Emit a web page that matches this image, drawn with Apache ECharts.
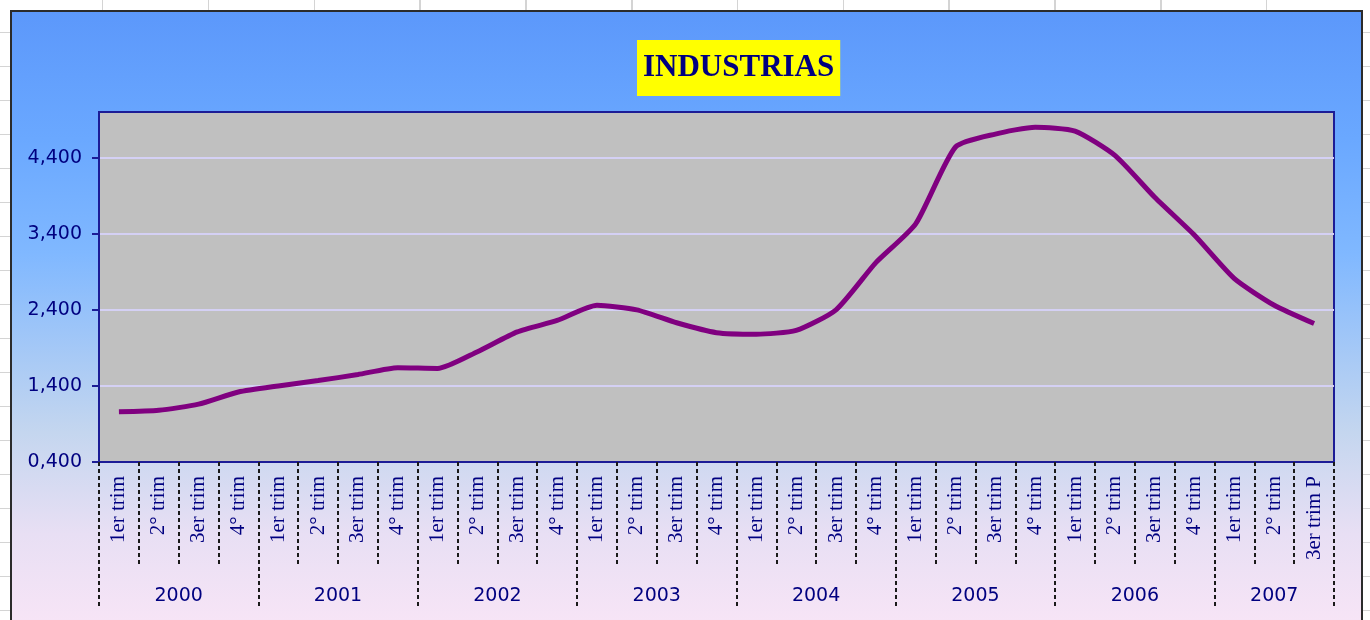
<!DOCTYPE html>
<html>
<head>
<meta charset="utf-8">
<script src="https://cdn.jsdelivr.net/npm/echarts@6/dist/echarts.min.js"></script>
<style>
  html, body { margin: 0; padding: 0; width: 1370px; height: 620px; overflow: hidden; }
  body {
    background-color: #fff;
    background-image:
      repeating-linear-gradient(to right, transparent 0, transparent 102px, #d4d4d4 102px, #d4d4d4 103.5px, transparent 103.5px, transparent 105.8px),
      repeating-linear-gradient(to bottom, transparent 0, transparent 32px, #d4d4d4 32px, #d4d4d4 33.5px, transparent 33.5px, transparent 34px);
  }
  #chart-frame {
    position: absolute; left: 10px; top: 10px; width: 1353px; height: 640px;
    box-sizing: border-box; border: 2px solid #2b2b2b;
    background: linear-gradient(to bottom, #5c98fb 0%, #6aa8ff 20%, #80b8ff 38%, #c4d6ef 66%, #e8dff4 82%, #fbe6f7 100%);
  }
  #industrias { width: 1349px; height: 636px; }
</style>
</head>
<body>
<div id="chart-frame"><div id="industrias"></div></div>
<script>
  // trimestres 2000 - 2007 (3er trim P = preliminar)
  const years = ['2000', '2001', '2002', '2003', '2004', '2005', '2006', '2007']
  const quarterLabels = [
    '1er trim', '2° trim', '3er trim', '4° trim',
    '1er trim', '2° trim', '3er trim', '4° trim',
    '1er trim', '2° trim', '3er trim', '4° trim',
    '1er trim', '2° trim', '3er trim', '4° trim',
    '1er trim', '2° trim', '3er trim', '4° trim',
    '1er trim', '2° trim', '3er trim', '4° trim',
    '1er trim', '2° trim', '3er trim', '4° trim',
    '1er trim', '2° trim', '3er trim P'
  ]
  const industrias = [
    1.06, 1.08, 1.16, 1.32, 1.40, 1.47, 1.55, 1.64,
    1.63, 1.85, 2.11, 2.26, 2.46, 2.40, 2.23, 2.10,
    2.08, 2.13, 2.40, 3.02, 3.53, 4.54, 4.71, 4.80,
    4.75, 4.43, 3.88, 3.38, 2.81, 2.46, 2.22
  ]
  const yTicks = [0.4, 1.4, 2.4, 3.4, 4.4]
  // limites entre trimestres, limites de año y centro de cada año (en trimestres)
  const quarterBounds = Array.from({length: quarterLabels.length + 1}, (_, i) => i)
  const yearBounds = [0, 4, 8, 12, 16, 20, 24, 28, 31]
  const yearCenters = [2, 6, 10, 14, 18, 22, 26, 29.5]

  const navy = '#000080'
  const dashed = () => ({color: '#1a1a1a', width: 2, type: [4, 3]})

  const chart = echarts.init(document.getElementById('industrias'))

  const option = {
    animation: false,
    title: {
      text: 'INDUSTRIAS',
      left: 625,
      top: 28,
      backgroundColor: '#ffff00',
      padding: [12, 6],
      textStyle: {
        fontFamily: 'Liberation Serif',
        fontWeight: 'bold',
        fontSize: 31,
        lineHeight: 32,
        color: navy
      }
    },
    grid: {
      left: 87,
      right: 27,
      top: 100,
      bottom: 186,
      show: true,
      backgroundColor: '#c0c0c0',
      borderColor: '#1c1c96',
      borderWidth: 2,
      outerBoundsMode: 'none'
    },
    xAxis: [
      {
        type: 'category',
        data: quarterLabels,
        boundaryGap: true,
        axisLine: {lineStyle: {color: '#1c1c96', width: 2}},
        axisTick: {show: false},
        axisLabel: {
          interval: 0,
          rotate: 90,
          margin: 14,
          fontFamily: 'Liberation Serif',
          fontSize: 21,
          color: navy
        }
      },
      {
        // marcas punteadas entre trimestres
        type: 'value',
        position: 'bottom',
        min: 0,
        max: quarterLabels.length,
        axisLine: {show: false},
        splitLine: {show: false},
        axisTick: {customValues: quarterBounds, length: 103, lineStyle: dashed()},
        axisLabel: {show: false}
      },
      {
        // eje de años: marcas largas en los limites, etiqueta centrada
        type: 'value',
        position: 'bottom',
        min: 0,
        max: quarterLabels.length,
        axisLine: {show: false},
        splitLine: {show: false},
        axisTick: {customValues: yearBounds, length: 146, lineStyle: dashed()},
        axisLabel: {
          customValues: yearCenters,
          margin: 125,
          fontFamily: 'DejaVu Sans',
          fontSize: 19,
          color: navy,
          formatter: v => years[Math.floor(v / 4)]
        }
      }
    ],
    yAxis: {
      type: 'value',
      min: 0.4,
      max: 5.0,
      axisLine: {show: true, lineStyle: {color: '#1c1c96', width: 2}},
      axisTick: {show: true, customValues: yTicks, length: 7, lineStyle: {color: '#1c1c96', width: 2}},
      axisLabel: {
        customValues: yTicks,
        margin: 17,
        fontFamily: 'DejaVu Sans',
        fontSize: 19,
        color: navy,
        formatter: v => v.toFixed(3).replace('.', ',')
      },
      splitLine: {show: true, lineStyle: {color: '#d4d0f4', width: 2}}
    },
    series: [
      {
        name: 'INDUSTRIAS',
        type: 'line',
        data: industrias,
        smooth: 0.2,
        symbol: 'none',
        lineStyle: {color: '#800080', width: 5}
      }
    ]
  }

  chart.setOption(option)
</script>
</body>
</html>
